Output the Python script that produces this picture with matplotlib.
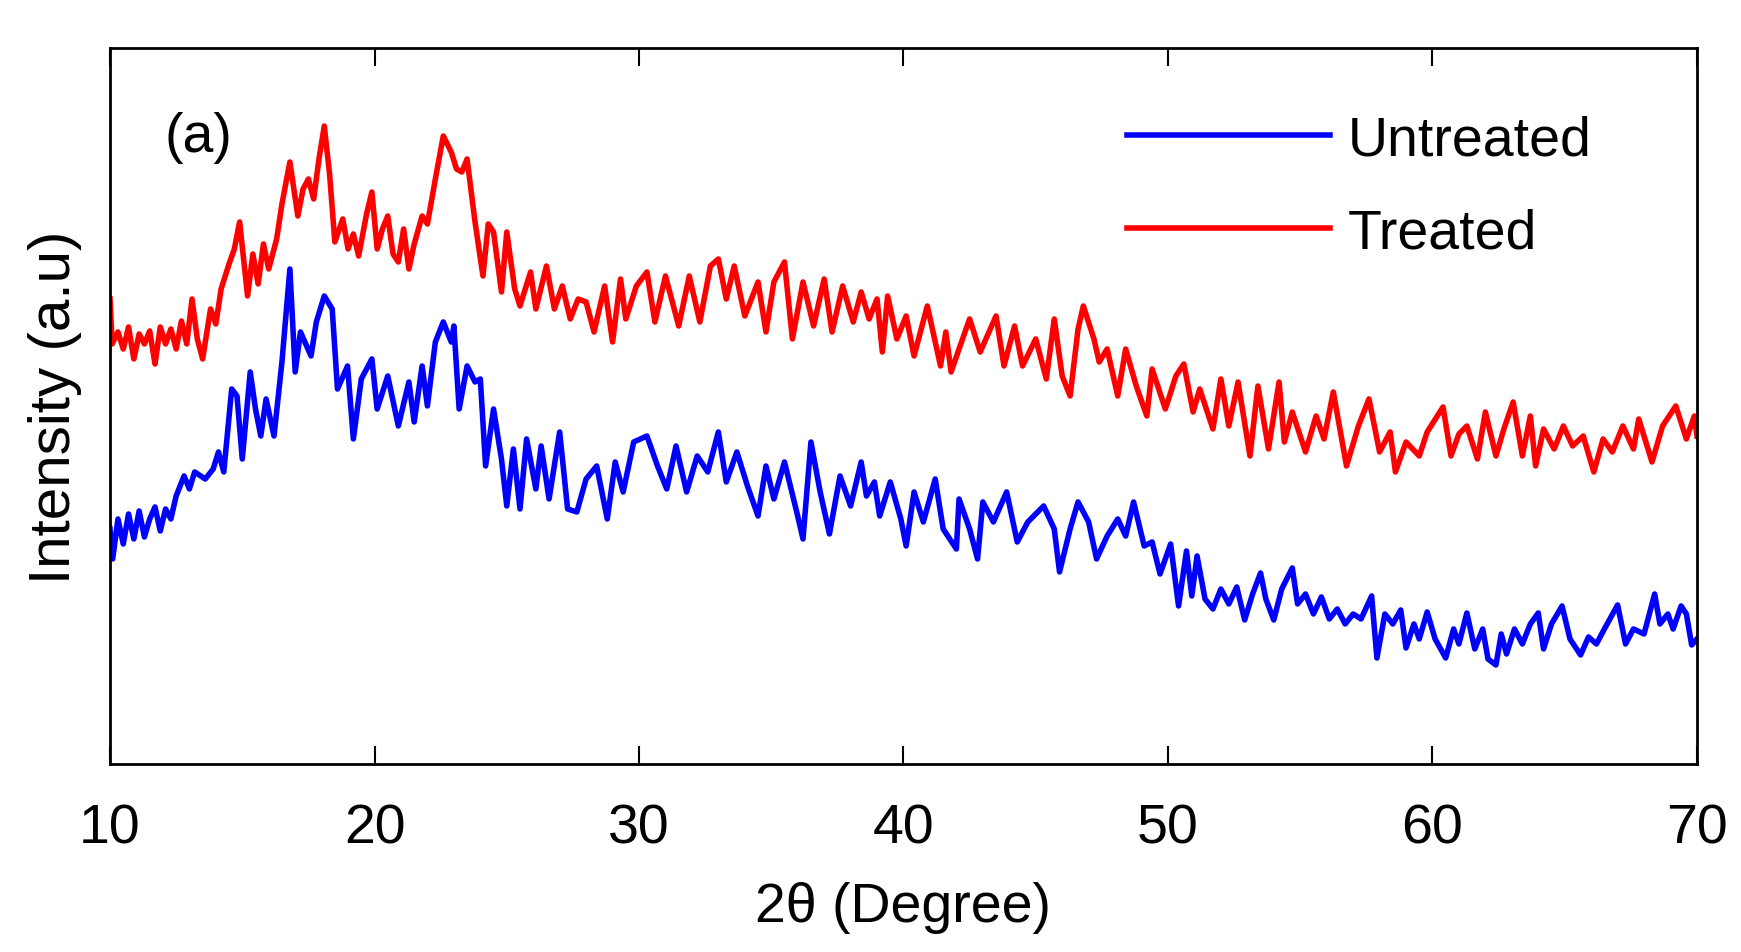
import matplotlib
matplotlib.use("Agg")
import matplotlib.pyplot as plt

plt.rcParams['font.family'] = ['Liberation Sans', 'DejaVu Sans']

# treated sample (red), 2theta in degree, intensity in arbitrary units
x_treated = [10.0, 10.08, 10.3, 10.5, 10.7, 10.9, 11.1, 11.3, 11.5, 11.7, 11.9, 12.1, 12.3, 12.5, 12.7,
             12.9, 13.1, 13.3, 13.5, 13.8, 14.0, 14.2, 14.5, 14.7, 14.9, 15.2, 15.4, 15.6, 15.8, 16.0,
             16.3, 16.5, 16.8, 17.1, 17.3, 17.5, 17.7, 17.9, 18.1, 18.3, 18.5, 18.8, 19.0, 19.2, 19.4,
             19.7, 19.9, 20.1, 20.3, 20.5, 20.7, 20.9, 21.1, 21.3, 21.5, 21.8, 22.0, 22.3, 22.6, 22.9,
             23.1, 23.3, 23.5, 23.8, 24.1, 24.3, 24.5, 24.8, 25.0, 25.3, 25.5, 25.9, 26.1, 26.5, 26.8,
             27.1, 27.4, 27.7, 28.0, 28.3, 28.7, 29.0, 29.3, 29.5, 29.9, 30.3, 30.6, 31.0, 31.5, 31.9,
             32.3, 32.7, 33.0, 33.3, 33.6, 34.0, 34.5, 34.8, 35.1, 35.5, 35.8, 36.2, 36.6, 37.0, 37.3,
             37.7, 38.1, 38.4, 38.7, 39.0, 39.2, 39.4, 39.75, 40.1, 40.4, 40.9, 41.4, 41.6, 41.8, 42.1,
             42.5, 42.9, 43.2, 43.5, 43.8, 44.2, 44.5, 45.0, 45.4, 45.7, 46.0, 46.3, 46.6, 46.8, 47.2,
             47.4, 47.7, 48.1, 48.4, 48.8, 49.2, 49.4, 49.9, 50.3, 50.6, 50.95, 51.2, 51.7, 52.0, 52.3,
             52.65, 53.1, 53.4, 53.8, 54.2, 54.4, 54.7, 55.2, 55.6, 55.9, 56.25, 56.75, 57.2, 57.6, 58.0,
             58.4, 58.6, 59.0, 59.5, 59.8, 60.4, 60.7, 61.0, 61.3, 61.7, 62.0, 62.4, 62.7, 63.05, 63.4,
             63.7, 63.9, 64.2, 64.6, 64.95, 65.3, 65.7, 66.1, 66.45, 66.8, 67.2, 67.6, 67.8, 68.3, 68.7,
             69.2, 69.6, 69.9, 70.0]
y_treated = [500, 455, 467, 450, 472, 440, 465, 455, 468, 435, 472, 455, 470, 450, 478,
             455, 500, 460, 440, 490, 475, 510, 535, 550, 577, 503, 545, 515, 555, 530,
             560, 595, 637, 583, 610, 620, 600, 640, 673, 625, 557, 580, 550, 565, 543,
             585, 607, 550, 570, 583, 545, 537, 570, 530, 555, 583, 575, 620, 663, 647,
             630, 627, 640, 577, 523, 575, 567, 507, 567, 510, 493, 527, 490, 533, 490,
             513, 480, 500, 497, 467, 513, 457, 520, 480, 513, 527, 477, 523, 473, 523,
             477, 533, 540, 500, 533, 483, 517, 467, 517, 537, 460, 517, 473, 520, 467,
             513, 477, 507, 480, 500, 447, 503, 460, 483, 443, 493, 433, 467, 427, 450,
             480, 447, 465, 483, 433, 473, 433, 460, 420, 480, 423, 403, 470, 493, 460,
             437, 450, 403, 450, 413, 383, 430, 390, 423, 435, 387, 410, 370, 420, 373,
             417, 343, 413, 350, 417, 357, 387, 347, 383, 360, 407, 333, 373, 400, 347,
             367, 327, 357, 343, 367, 392, 343, 365, 373, 340, 387, 343, 370, 397, 343,
             383, 333, 370, 350, 373, 353, 363, 327, 360, 347, 373, 350, 380, 337, 373,
             393, 360, 383, 363]

# untreated sample (blue)
x_untreated = [10.0, 10.1, 10.3, 10.5, 10.7, 10.9, 11.1, 11.3, 11.5, 11.7, 11.9, 12.1, 12.3, 12.5, 12.8,
               13.0, 13.2, 13.6, 13.9, 14.1, 14.3, 14.6, 14.8, 15.0, 15.3, 15.5, 15.7, 15.9, 16.2, 16.5,
               16.8, 17.0, 17.2, 17.6, 17.8, 18.1, 18.4, 18.6, 18.98, 19.2, 19.5, 19.9, 20.1, 20.5, 20.9,
               21.3, 21.5, 21.8, 22.0, 22.3, 22.6, 22.9, 23.0, 23.2, 23.5, 23.8, 24.0, 24.2, 24.5, 24.8,
               25.0, 25.25, 25.5, 25.75, 26.1, 26.3, 26.6, 27.0, 27.3, 27.65, 28.0, 28.4, 28.8, 29.1, 29.4,
               29.8, 30.3, 30.7, 31.05, 31.4, 31.8, 32.2, 32.6, 33.0, 33.3, 33.7, 34.1, 34.5, 34.8, 35.1,
               35.5, 36.0, 36.2, 36.5, 36.85, 37.2, 37.6, 38.0, 38.4, 38.6, 38.9, 39.1, 39.5, 39.9, 40.1,
               40.4, 40.75, 41.2, 41.5, 42.0, 42.1, 42.5, 42.8, 43.0, 43.4, 43.9, 44.3, 44.7, 45.3, 45.7,
               45.9, 46.3, 46.6, 47.0, 47.3, 47.7, 48.1, 48.4, 48.7, 49.1, 49.4, 49.7, 50.1, 50.4, 50.7,
               50.9, 51.1, 51.4, 51.7, 52.0, 52.3, 52.6, 52.9, 53.2, 53.5, 53.7, 54.0, 54.3, 54.7, 54.9,
               55.2, 55.5, 55.8, 56.1, 56.4, 56.7, 57.0, 57.3, 57.7, 57.9, 58.2, 58.5, 58.8, 59.0, 59.3,
               59.5, 59.8, 60.1, 60.5, 60.8, 61.0, 61.3, 61.6, 61.9, 62.1, 62.4, 62.6, 62.8, 63.1, 63.4,
               63.7, 64.0, 64.2, 64.5, 64.9, 65.2, 65.6, 65.9, 66.2, 66.5, 67.0, 67.3, 67.6, 68.0, 68.4,
               68.6, 68.9, 69.1, 69.4, 69.6, 69.8, 70.0]
y_untreated = [270, 240, 280, 255, 285, 260, 288, 262, 280, 292, 268, 290, 280, 303, 323,
               310, 327, 320, 330, 347, 327, 410, 403, 340, 427, 390, 363, 400, 363, 437,
               530, 427, 467, 443, 477, 503, 490, 410, 433, 360, 420, 440, 390, 423, 373,
               417, 377, 433, 393, 457, 477, 457, 473, 390, 433, 417, 420, 333, 390, 340,
               293, 350, 290, 360, 310, 353, 300, 367, 290, 287, 320, 333, 280, 337, 307,
               357, 363, 333, 310, 353, 307, 343, 327, 367, 317, 347, 313, 283, 333, 300,
               337, 283, 260, 357, 307, 265, 323, 293, 337, 303, 317, 283, 317, 280, 253,
               307, 277, 320, 270, 250, 300, 270, 240, 297, 277, 307, 257, 277, 293, 270,
               227, 270, 297, 277, 240, 263, 280, 263, 297, 253, 257, 225, 255, 193, 248,
               203, 243, 200, 190, 210, 195, 212, 179, 205, 226, 200, 179, 210, 231, 195,
               205, 185, 202, 180, 190, 175, 185, 180, 203, 141, 185, 175, 189, 151, 175,
               160, 187, 160, 141, 170, 155, 186, 150, 170, 140, 134, 165, 145, 170, 155,
               175, 186, 150, 175, 193, 160, 144, 162, 155, 170, 194, 155, 170, 165, 205,
               175, 185, 170, 193, 185, 154, 160]

x_ticks = [10, 20, 30, 40, 50, 60, 70]

fig = plt.figure(figsize=(17.41, 9.53), dpi=100)
ax = fig.add_axes([0.0632, 0.1973, 0.9115, 0.7513])

ax.plot(x_untreated, y_untreated, color='#0000ff', linewidth=4, label='Untreated')
ax.plot(x_treated, y_treated, color='#ff0000', linewidth=4, label='Treated')

ax.set_xlim(10, 70)
ax.set_ylim(35, 751)
ax.set_xticks(x_ticks)
ax.set_yticks([])
ax.tick_params(axis='x', direction='in', top=True, length=13, width=1.5,
               labelsize=40, pad=28)
for s in ax.spines.values():
    s.set_linewidth(2)

ax.set_xlabel('2\u03b8 (Degree)', fontsize=40, labelpad=19)
ax.set_ylabel('Intensity (a.u)', fontsize=42, labelpad=20)

ax.text(12.05, 662, '(a)', fontsize=40, va='center', ha='left')

ax.legend(loc='center left', bbox_to_anchor=(0.641, 0.806), frameon=False,
          fontsize=40, handlelength=3.65, handletextpad=0.32, labelspacing=0.75,
          borderpad=0, borderaxespad=0)

fig.savefig('out.png', dpi=100)
